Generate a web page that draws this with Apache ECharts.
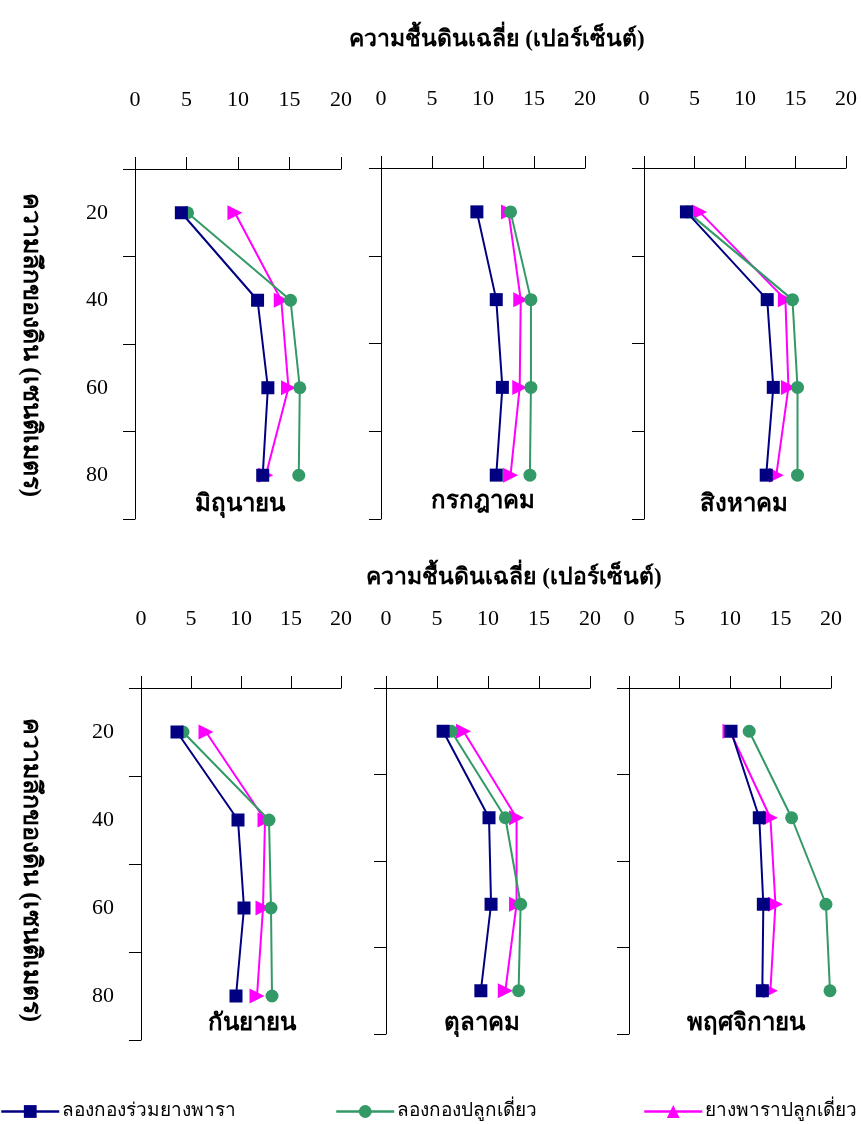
<!DOCTYPE html>
<html><head><meta charset="utf-8">
<script src="https://cdn.jsdelivr.net/npm/echarts@6/dist/echarts.min.js"></script>
<style>html,body{margin:0;padding:0;background:#fff}#c{width:861px;height:1124px}</style>
</head><body><div id="c"></div>
<script>
const depths = ['20', '40', '60', '80'];
const xTicks = [0, 5, 10, 15, 20];
const months = ['มิถุนายน', 'กรกฎาคม', 'สิงหาคม', 'กันยายน', 'ตุลาคม', 'พฤศจิกายน'];
const seriesNames = ['ลองกองร่วมยางพารา', 'ลองกองปลูกเดี่ยว', 'ยางพาราปลูกเดี่ยว'];
const xTitle = 'ความชื้นดินเฉลี่ย (เปอร์เซ็นต์)';
const yTitle = 'ความลึกของดิน (เซนติเมตร)';

// values per month: [mixed, longkong alone, rubber alone], by depth 20,40,60,80
const junMixed = [4.5, 11.9, 12.9, 12.4];
const junLongkong = [5.1, 15.1, 16.0, 15.9];
const junRubber = [9.7, 14.2, 14.9, 12.7];
const julMixed = [9.4, 11.3, 11.9, 11.3];
const julLongkong = [12.7, 14.7, 14.7, 14.6];
const julRubber = [12.5, 13.7, 13.6, 12.7];
const augMixed = [4.2, 12.2, 12.8, 12.1];
const augLongkong = [4.3, 14.7, 15.2, 15.2];
const augRubber = [5.5, 14.0, 14.3, 13.1];
const sepMixed = [3.6, 9.7, 10.3, 9.5];
const sepLongkong = [4.2, 12.8, 13.0, 13.1];
const sepRubber = [6.5, 12.4, 12.2, 11.6];
const octMixed = [5.6, 10.1, 10.3, 9.3];
const octLongkong = [6.4, 11.7, 13.2, 13.0];
const octRubber = [7.6, 12.8, 12.8, 11.7];
const novMixed = [10.1, 12.9, 13.3, 13.2];
const novLongkong = [11.9, 16.1, 19.5, 19.9];
const novRubber = [10.0, 14.0, 14.5, 14.0];

const panelData = [
  [junMixed, junLongkong, junRubber],
  [julMixed, julLongkong, julRubber],
  [augMixed, augLongkong, augRubber],
  [sepMixed, sepLongkong, sepRubber],
  [octMixed, octLongkong, octRubber],
  [novMixed, novLongkong, novRubber]
];

// layout
const grids = [
  {left: 135, top: 169, width: 206, height: 350},
  {left: 381, top: 168, width: 204, height: 351},
  {left: 644, top: 168, width: 202, height: 351},
  {left: 141, top: 688, width: 200, height: 352},
  {left: 386, top: 688, width: 204, height: 346},
  {left: 629, top: 688, width: 202, height: 346}
];
const colors = ['#000080', '#339966', '#FF00FF'];
const symbols = ['rect', 'circle', 'triangle'];
const symSizes = [13, 13, 15];
const symRot = [0, 0, -90];
const numFont = '"Liberation Serif", "Times New Roman", serif';
const thaiFont = '"Liberation Serif", serif';

const chart = echarts.init(document.getElementById('c'), null, {renderer: 'canvas'});
const option = {
  animation: false,
  backgroundColor: '#fff',
  grid: grids.map(g => Object.assign({containLabel: false}, g)),
  xAxis: grids.map((g, i) => ({
    gridIndex: i, type: 'value', position: 'top', min: 0, max: 20, interval: 5,
    axisLine: {show: true, onZero: false, lineStyle: {color: '#000', width: 1}},
    axisTick: {show: true, inside: false, length: 12, lineStyle: {color: '#000'}},
    axisLabel: {show: true, margin: 58, fontSize: 22, fontFamily: numFont, color: '#000',
      formatter: v => xTicks.indexOf(v) >= 0 ? String(v) : ''},
    splitLine: {show: false}
  })),
  yAxis: grids.map((g, i) => ({
    gridIndex: i, type: 'category', data: depths, inverse: true, boundaryGap: true,
    axisLine: {show: true, onZero: false, lineStyle: {color: '#000', width: 1}},
    axisTick: {show: true, inside: false, length: 12, alignWithLabel: false, lineStyle: {color: '#000'}},
    axisLabel: {show: i === 0 || i === 3, margin: 27, fontSize: 22, fontFamily: numFont, color: '#000'},
    splitLine: {show: false}
  })),
  legend: seriesNames.map((n, k) => ({
    data: [n], left: [0, 335, 643][k], top: 1102, padding: 0, itemWidth: 58, itemHeight: 16, itemGap: 4,
    symbolRotate: 0,
    itemStyle: {borderWidth: 0},
    lineStyle: {width: 2.5},
    textStyle: {fontSize: 19, fontFamily: thaiFont, color: '#000', padding: [0, 0, 0, -2]}
  })),
  series: [],
  graphic: []
};

panelData.forEach((arrs, p) => {
  arrs.forEach((vals, k) => {
    option.series.push({
      name: seriesNames[k], type: 'line', xAxisIndex: p, yAxisIndex: p,
      data: vals.map((v, j) => [v, depths[j]]),
      symbol: symbols[k], symbolSize: symSizes[k], symbolRotate: symRot[k],
      showSymbol: true,
      lineStyle: {color: colors[k], width: 2},
      itemStyle: {color: colors[k], borderWidth: 0},
      z: 2 + (2 - k)
    });
  });
});

const titlePos = [[240, 505], [483, 502], [744, 505], [252, 1024], [482, 1024], [746, 1024]];
months.forEach((m, i) => {
  option.graphic.push({type: 'text', x: titlePos[i][0], y: titlePos[i][1], z: 100,
    style: {text: m, align: 'center', verticalAlign: 'middle', fontSize: 24, fontWeight: 'bold', fontFamily: thaiFont, fill: '#000'}});
});
[[497, 40], [514, 578]].forEach(pos => {
  option.graphic.push({type: 'text', x: pos[0], y: pos[1], z: 100,
    style: {text: xTitle, align: 'center', verticalAlign: 'middle', fontSize: 23, fontWeight: 'bold', fontFamily: thaiFont, fill: '#000'}});
});
[[30, 345], [30, 870]].forEach(pos => {
  option.graphic.push({type: 'text', x: pos[0], y: pos[1], rotation: -Math.PI / 2, z: 100,
    style: {text: yTitle, align: 'center', verticalAlign: 'middle', fontSize: 25, fontWeight: 'bold', fontFamily: thaiFont, fill: '#000'}});
});

chart.setOption(option);
</script></body></html>
